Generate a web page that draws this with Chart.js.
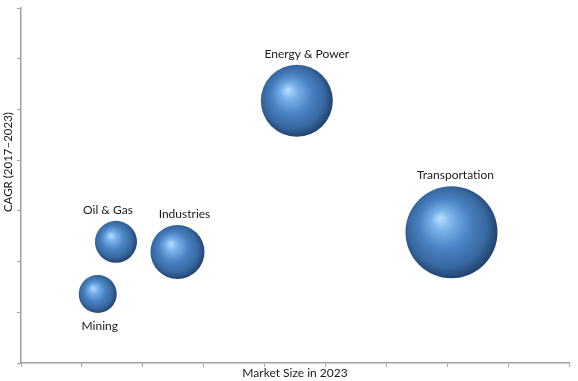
<!DOCTYPE html>
<html>
<head>
<meta charset="utf-8">
<script src="https://cdn.jsdelivr.net/npm/chart.js@4"></script>
<style>
html,body{margin:0;padding:0;background:#fff;}
#wrap{width:578px;height:381px;position:relative;}
</style>
</head>
<body>
<div id="wrap"><canvas id="c" width="578" height="381"></canvas></div>
<script>
// ---- data ----
const categories = ['Energy & Power', 'Transportation', 'Industries', 'Oil & Gas', 'Mining'];
const marketSize = [4.53, 7.07, 2.57, 1.56, 1.26];   // x (Market Size in 2023)
const cagr       = [5.17, 2.58, 2.19, 2.39, 1.36];   // y (CAGR 2017–2023)
const bubbleSize = [36, 46, 27, 21, 19];             // bubble radius
const xTicks = [0, 1, 2, 3, 4, 5, 6, 7, 8, 9];
const yTicks = [0, 1, 2, 3, 4, 5, 6, 7];
const xTitle = 'Market Size in 2023';
const yTitle = 'CAGR (2017–2023)';

// label placement (style only): above or below the bubble, small horizontal nudge
const labelSide  = ['top', 'top', 'top', 'top', 'bottom'];
const labelNudge = [10, 4, 7, -8, 2];

const points = categories.map((c, i) => ({ x: marketSize[i], y: cagr[i], r: bubbleSize[i] }));

const FONT = 'Lato, "Open Sans", sans-serif';
const TEXT = '#1a1a1a';
const BASE = '#4a80c2';

function sphere(ctx) {
  if (ctx.type !== 'data' || !ctx.raw) return BASE;
  const chart = ctx.chart, xs = chart.scales && chart.scales.x, ys = chart.scales && chart.scales.y;
  if (!xs || !ys) return BASE;
  const cx = xs.getPixelForValue(ctx.raw.x);
  const cy = ys.getPixelForValue(ctx.raw.y);
  const r = ctx.raw.r;
  if (![cx, cy, r].every(Number.isFinite)) return BASE;
  const g = chart.ctx.createRadialGradient(cx - 0.25 * r, cy - 0.3 * r, r * 0.02, cx - 0.05 * r, cy - 0.05 * r, r * 1.05);
  g.addColorStop(0.0, '#b3dcff');
  g.addColorStop(0.2, '#7ab1ea');
  g.addColorStop(0.5, '#4c83c5');
  g.addColorStop(0.82, '#36679f');
  g.addColorStop(1.0, '#22436f');
  return g;
}

const labelPlugin = {
  id: 'bubbleLabels',
  afterDatasetsDraw(chart) {
    const c = chart.ctx;
    const meta = chart.getDatasetMeta(0);
    c.save();
    c.font = '12px ' + FONT;
    c.fillStyle = TEXT;
    c.textAlign = 'center';
    c.textBaseline = 'middle';
    meta.data.forEach((el, i) => {
      const r = el.options.radius;
      const y = labelSide[i] === 'top' ? el.y - r - 11 : el.y + r + 13;
      c.fillText(categories[i], el.x + labelNudge[i], y);
    });
    c.restore();
  }
};

const titlePlugin = {
  id: 'axisTitles',
  afterDraw(chart) {
    const c = chart.ctx, a = chart.chartArea;
    c.save();
    c.fillStyle = TEXT;
    c.textAlign = 'center';
    c.textBaseline = 'middle';
    c.font = '12px ' + FONT;
    c.fillText(xTitle, (a.left + a.right) / 2, a.bottom + 10);
    c.translate(8, a.top + (a.bottom - a.top) * 0.434);
    c.rotate(-Math.PI / 2);
    c.font = '11.5px ' + FONT;
    c.fillText(yTitle, 0, 0);
    c.restore();
  }
};

new Chart(document.getElementById('c'), {
  type: 'bubble',
  data: {
    datasets: [{
      label: 'Segments',
      data: points,
      backgroundColor: sphere,
      borderWidth: 0,
      hoverBorderWidth: 0,
      hoverRadius: 0,
      clip: false
    }]
  },
  options: {
    responsive: false,
    animation: false,
    events: [],
    layout: { autoPadding: false, padding: { top: 8, right: 9, bottom: 0, left: 0 } },
    plugins: { legend: { display: false }, tooltip: { enabled: false } },
    scales: {
      x: {
        type: 'linear',
        min: xTicks[0], max: xTicks[xTicks.length - 1],
        afterBuildTicks: s => { s.ticks = xTicks.map(v => ({ value: v })); },
        afterFit: s => { s.height = 18; },
        ticks: { display: false },
        grid: { drawOnChartArea: false, drawTicks: true, tickLength: 4, color: '#a6a6a6', lineWidth: 1 },
        border: { color: '#a0a0a0', width: 1.5 }
      },
      y: {
        type: 'linear',
        min: yTicks[0], max: yTicks[yTicks.length - 1],
        afterBuildTicks: s => { s.ticks = yTicks.map(v => ({ value: v })); },
        afterFit: s => { s.width = 21; },
        ticks: { display: false },
        grid: { drawOnChartArea: false, drawTicks: true, tickLength: 4, color: '#a6a6a6', lineWidth: 1 },
        border: { color: '#a0a0a0', width: 1.5 }
      }
    }
  },
  plugins: [labelPlugin, titlePlugin]
});
</script>
</body>
</html>
